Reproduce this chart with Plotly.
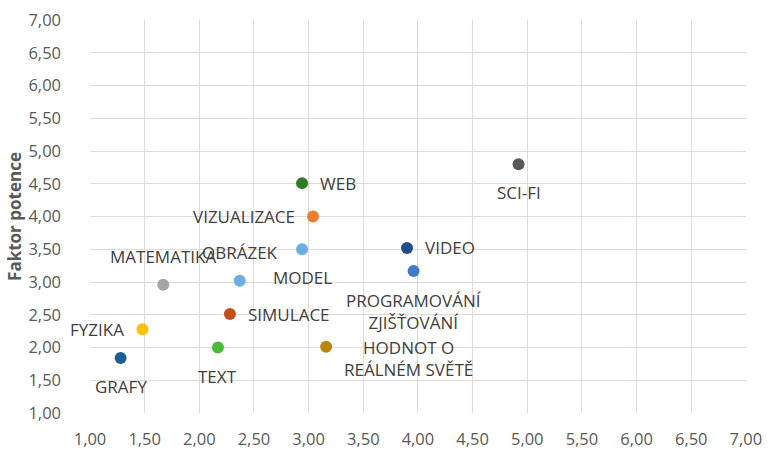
import plotly.graph_objects as go

# data
labels = ['SCI-FI', 'WEB', 'VIZUALIZACE', 'MODEL', 'VIDEO', 'PROGRAMOVÁNÍ<br>ZJIŠŤOVÁNÍ',
          'OBRÁZEK', 'MATEMATIKA', 'SIMULACE', 'FYZIKA', 'TEXT',
          'HODNOT O<br>REÁLNÉM SVĚTĚ', 'GRAFY']
x_vals = [4.92, 2.94, 3.04, 2.94, 3.90, 3.96, 2.37, 1.67, 2.28, 1.48, 2.17, 3.16, 1.28]
y_vals = [4.80, 4.51, 4.00, 3.50, 3.52, 3.17, 3.02, 2.96, 2.51, 2.28, 2.00, 2.01, 1.84]
colors = ['#595959', '#2E7D22', '#ED7D31', '#6AAEE3', '#1F4E8C', '#3F7CC8',
          '#6AAEE3', '#A5A5A5', '#C0501A', '#FFC000', '#4CB83C', '#B8860B', '#1F5D94']
# where each data label sits
label_pos = ['below', 'right', 'left', 'below', 'right', 'below2',
             'above', 'above', 'right', 'left', 'below', 'right2', 'below']

place = {
    'right': ('left', 'middle', 16, 0),
    'left': ('right', 'middle', -16, 0),
    'above': ('center', 'bottom', 0, 15),
    'below': ('center', 'top', 0, -15),
    'below2': ('center', 'top', 0, -16),
    'right2': ('left', 'top', 16, 13),
}

fig = go.Figure()

fig.add_trace(go.Scatter(x=x_vals, y=y_vals, mode='markers',
                         marker=dict(color=colors, size=12),
                         hoverinfo='x+y', showlegend=False))

for lab, xv, yv, pos in zip(labels, x_vals, y_vals, label_pos):
    xa, ya, xs, ys = place[pos]
    fig.add_annotation(x=xv, y=yv, text=lab, showarrow=False,
                       xanchor=xa, yanchor=ya, xshift=xs, yshift=ys,
                       align='center',
                       font=dict(family='Open Sans, sans-serif', size=17, color='#404040'))

axis_style = dict(range=[1, 7.001], dtick=0.5, tickformat='.2f', automargin=False,
                  showgrid=True, gridcolor='#E3D9D9', gridwidth=1,
                  zeroline=False, showline=False, ticks='',
                  tickfont=dict(family='Open Sans, sans-serif', size=16.5, color='#595959'))

fig.update_layout(width=771, height=450,
                  margin=dict(l=90, r=25, t=20, b=37),
                  paper_bgcolor='white', plot_bgcolor='white',
                  separators=', ',
                  font=dict(family='Open Sans, sans-serif'),
                  xaxis=dict(axis_style, ticklabelstandoff=14),
                  yaxis=dict(axis_style, ticklabelstandoff=28,
                             title=dict(text='<b>Faktor potence</b>', standoff=2,
                                        font=dict(family='Open Sans, sans-serif', size=17,
                                                  color='#595959'))))

# drop the default page margin so the figure sits in the corner of the window
fig.write_html("out.html", config={'displayModeBar': False},
               post_script="document.body.style.margin='0';")
